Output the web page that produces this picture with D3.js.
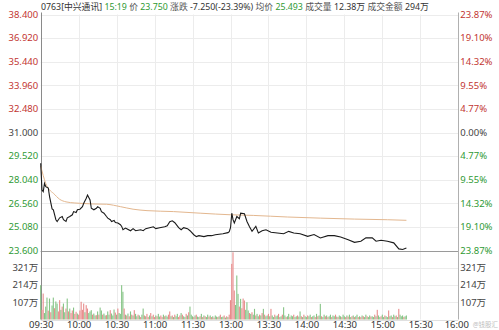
<!DOCTYPE html>
<html><head><meta charset="utf-8">
<script src="https://cdn.jsdelivr.net/npm/d3@7"></script>
<style>
body{margin:0;background:#fff}
svg{display:block}
text{font-family:"Noto Sans","Noto Sans CJK SC",sans-serif}
</style>
</head><body>
<svg id="c" width="499" height="330"></svg>
<script>
const prevClose = 31.0;
const priceTicks = [38.4,36.92,35.44,33.96,32.48,31.0,29.52,28.04,26.56,25.08,23.6];
const pctLabels = ["23.87%","19.10%","14.32%","9.55%","4.77%","0.00%","4.77%","9.55%","14.32%","19.10%","23.87%"];
const volTicks = [107,214,321];
const volLabels = ["107万","214万","321万"];
const timeTicks = [0,30,60,90,120,150,180,210,240,270,300,330];
const timeLabels = ["09:30","10:00","10:30","11:00","11:30","13:00","13:30","14:00","14:30","15:00","15:30","16:00"];

const priceMin = [0,1,2,3,4,6,7,9,10,12,13,15,17,18,20,21,23,25,26,28,29,31,33,34,36,37,39,40,42,44,45,47,48,50,52,53,55,56,58,59,61,63,64,65,67,68,71,73,75,79,81,83,86,89,91,94,98,100,102,104,106,109,111,113,116,118,121,123,125,129,132,135,138,141,144,148,149,150,151,152,153,155,157,158,161,163,165,167,170,172,175,178,182,187,192,196,200,205,211,216,221,227,232,237,243,248,253,257,262,265,269,274,279,283,286,289];
const priceVal = [29.07,27.39,27.29,27.81,27.60,27.52,26.98,26.21,26.15,25.53,25.42,25.65,25.73,25.53,25.42,25.65,25.73,25.84,26.04,25.98,26.15,26.19,26.35,26.56,26.88,27.08,26.77,26.25,26.15,26.25,26.35,26.25,26.04,25.94,25.73,25.63,25.53,25.42,25.48,25.36,25.32,25.22,25.11,24.90,25.01,24.97,24.84,24.97,24.84,24.90,24.84,24.97,25.03,25.09,24.97,25.03,25.09,25.15,25.40,25.46,25.34,25.03,24.90,25.03,24.97,24.84,24.59,24.47,24.53,24.47,24.53,24.53,24.59,24.62,24.65,24.72,24.78,25.03,25.94,25.53,25.32,25.73,25.59,25.94,25.90,25.42,25.09,24.80,25.11,24.70,24.84,24.90,24.74,24.70,24.65,24.80,24.70,24.65,24.49,24.60,24.39,24.53,24.53,24.45,24.28,24.11,24.18,24.39,24.39,24.18,24.24,24.18,24.08,23.70,23.66,23.75];

const avgMin = [0,2,4,7,10,15,20,27,31,41,52,63,73,84,105,126,150,168,195,221,248,274,289];
const avgVal = [28.9,28.3,27.8,27.4,27.19,26.81,26.65,26.58,26.56,26.52,26.50,26.35,26.19,26.10,26.04,25.94,25.84,25.80,25.70,25.63,25.57,25.53,25.493];

const volAM = [213,60,161,40,80,136,55,130,45,87,
 136,70,112,99,50,120,60,80,99,45,
 68,130,50,68,40,56,74,35,48,37,
 30,56,110,60,99,45,89,68,40,50,
 58,30,37,25,27,50,30,74,56,30,
 37,25,27,50,30,58,37,25,62,43,
 30,68,40,35,213,172,68,30,25,37,
 20,50,30,25,58,35,20,30,25,15,
 30,68,25,20,35,15,25,40,20,30,
 15,25,20,35,18,25,15,30,20,25,
 18,30,50,20,25,15,30,20,35,15,
 25,40,30,20,15,35,25,45,80,30,
 20,15,25,30,18,15,20,35,15,25,
 20,15,30,18,25,15,20,12,25,18,
 15,20,30,15,18,25,12,20,15,30];
const volPM = [120,345,417,180,90,273,159,80,128,70,
 130,118,60,107,56,40,35,45,30,66,
 25,35,20,30,25,40,66,30,20,25,
 35,20,66,25,15,30,20,25,35,15,
 20,30,76,25,15,20,35,15,25,20,
 30,15,20,25,18,50,20,15,30,20,
 15,25,20,30,15,20,25,15,35,20,
 25,97,20,15,30,20,25,15,20,30,
 15,25,20,30,18,15,25,20,15,30,
 20,15,25,18,30,15,20,25,15,20,
 30,15,20,15,25,20,15,30,20,15,
 25,18,20,15,30,20,60,25,15,20,
 30,15,25,20,15,56,20,25,15,30,
 20,25,15,66,30,20,25,15,20,25];
const dirAM = "grrgggrgrggrggrrgrggrgrgrrgrrgrrrrrgrrgggrggrgrggrggrggrgggrgrggggrgrgrgrgrggrgrggrgrrgrgrrgrggrrgrggrrgrgrggrrgrggrgrgggrgrggrgrgrggrgrgrggrgrggrgrgr";
const dirPM = "rrrrgggrgrrrgggrgrggrggrgrgrggrgrggrggrggrggrggrggrggrggrgrggrggrggrgrggrggrgrggrggrgrggrggrgrggrgrggrgrgrggrggrggrgrggrggrggrggrggrgrgggrggrggrg";

const x0 = 40.7, x1 = 458.3;
const yTop = 14.5, yMid = 250.5, yBot = 319.5;
const svg = d3.select("#c");

const x = d3.scaleLinear().domain([0,330]).range([x0,x1]);
const y = d3.scaleLinear().domain([23.6,38.4]).range([yMid,yTop]);
const yv = d3.scaleLinear().domain([0,428]).range([yBot,yMid]);

const RED = "#c23531", GREEN = "#2f9a34", GRAY = "#444";
const colOf = v => v > prevClose + 1e-9 ? RED : (v < prevClose - 1e-9 ? GREEN : GRAY);

// grid
const g = svg.append("g");
g.selectAll(".hg").data(priceTicks).join("line")
  .attr("x1",x0).attr("x2",x1)
  .attr("y1",d=>Math.round(y(d))+0.5).attr("y2",d=>Math.round(y(d))+0.5)
  .attr("stroke","#ececec");
g.selectAll(".vg").data(volTicks).join("line")
  .attr("x1",x0).attr("x2",x1)
  .attr("y1",d=>Math.round(yv(d))+0.5).attr("y2",d=>Math.round(yv(d))+0.5)
  .attr("stroke","#ececec");
g.selectAll(".tg").data(timeTicks.slice(1,-1)).join("line")
  .attr("x1",d=>Math.round(x(d))+0.5).attr("x2",d=>Math.round(x(d))+0.5)
  .attr("y1",yTop).attr("y2",yBot)
  .attr("stroke","#ececec");
g.append("line").attr("x1",x0).attr("x2",x1).attr("y1",Math.round(yMid)+0.5).attr("y2",Math.round(yMid)+0.5).attr("stroke","#9a9a9a");
g.append("line").attr("x1",x0).attr("x2",x1).attr("y1",Math.round(yBot)+0.5).attr("y2",Math.round(yBot)+0.5).attr("stroke","#e0e0e0");
g.append("line").attr("x1",Math.round(x0)+0.5).attr("x2",Math.round(x0)+0.5).attr("y1",yTop-2).attr("y2",yBot).attr("stroke","#8a8a8a");
g.append("line").attr("x1",Math.round(x1)+0.5).attr("x2",Math.round(x1)+0.5).attr("y1",yTop-2).attr("y2",yBot).attr("stroke","#b0b0b0");

// volume bars
const bars = [];
volAM.forEach((v,i)=>bars.push({k:i,v,d:dirAM[i]||"g"}));
volPM.forEach((v,j)=>bars.push({k:150+j,v,d:dirPM[j]||"g"}));
svg.append("g").selectAll("rect").data(bars).join("rect")
  .attr("x",d=>x(d.k)-0.6).attr("width",1.1)
  .attr("y",d=>yv(d.v)).attr("height",d=>yBot-yv(d.v))
  .attr("fill",d=>d.d==="r"?"#e88c8c":"#86c486");

// avg line
const avgPts = avgMin.map((m,i)=>[m,avgVal[i]]);
svg.append("path").datum(avgPts)
  .attr("d",d3.line().x(d=>x(d[0])).y(d=>y(d[1])).curve(d3.curveMonotoneX))
  .attr("fill","none").attr("stroke","#e3b78f").attr("stroke-width",1);

// price line
const pPts = priceMin.map((m,i)=>[m,priceVal[i]]);
svg.append("path").datum(pPts)
  .attr("d",d3.line().x(d=>x(d[0])).y(d=>y(d[1])))
  .attr("fill","none").attr("stroke","#1a1a1a").attr("stroke-width",1.1);

const fs = 9.5;
svg.append("g").selectAll("text").data(priceTicks).join("text")
  .attr("x",x0-2.5).attr("y",d=>y(d)).attr("dy","0.35em")
  .attr("text-anchor","end").attr("font-size",fs)
  .attr("fill",d=>colOf(d)).text(d=>d3.format(".3f")(d));
svg.append("g").selectAll("text").data(priceTicks).join("text")
  .attr("x",x1+2).attr("y",d=>y(d)).attr("dy","0.35em")
  .attr("text-anchor","start").attr("font-size",fs)
  .attr("fill",d=>colOf(d)).text((d,i)=>pctLabels[i]);
svg.append("g").selectAll("text").data(volTicks).join("text")
  .attr("x",x0-2.5).attr("y",d=>yv(d)).attr("dy","0.35em")
  .attr("text-anchor","end").attr("font-size",fs).attr("fill",GRAY)
  .text((d,i)=>volLabels[i]);
svg.append("g").selectAll("text").data(volTicks).join("text")
  .attr("x",x1+2).attr("y",d=>yv(d)).attr("dy","0.35em")
  .attr("text-anchor","start").attr("font-size",fs).attr("fill",GRAY)
  .text((d,i)=>volLabels[i]);

const xa = d3.axisBottom(x).tickValues(timeTicks).tickSize(0).tickPadding(2)
  .tickFormat((d,i)=>timeLabels[i]);
const xg = svg.append("g").attr("transform",`translate(0,${yBot})`).call(xa);
xg.select(".domain").remove();
xg.selectAll("text").attr("font-size",fs).attr("fill","#333")
  .attr("font-family",'"Noto Sans",sans-serif');
xg.selectAll(".tick").filter((d,i)=>i===timeTicks.length-1).select("text")
  .attr("dx","-2");

svg.append("text").attr("x",498).attr("y",327).attr("text-anchor","end")
  .attr("font-size",6.5).attr("fill","#c0c0c0").text("@钱股汇");

const header = [
  ["0763[中兴通讯]","#333"],[" 15:19","#2f9a34"],[" 价 ","#555"],["23.750","#2f9a34"],
  [" 涨跌 ","#555"],["-7.250(-23.39%)","#333"],[" 均价 ","#555"],["25.493","#2f9a34"],
  [" 成交量 ","#555"],["12.38万","#333"],[" 成交金额 ","#555"],["294万","#333"]
];
const ht = svg.append("text").attr("x",41).attr("y",10).attr("font-size",8.8)
  .attr("font-family",'"Noto Sans CJK SC","Noto Sans",sans-serif')
  .attr("xml:space","preserve").style("white-space","pre");
header.forEach(h=>ht.append("tspan").attr("fill",h[1]).text(h[0]));
</script>
</body></html>
